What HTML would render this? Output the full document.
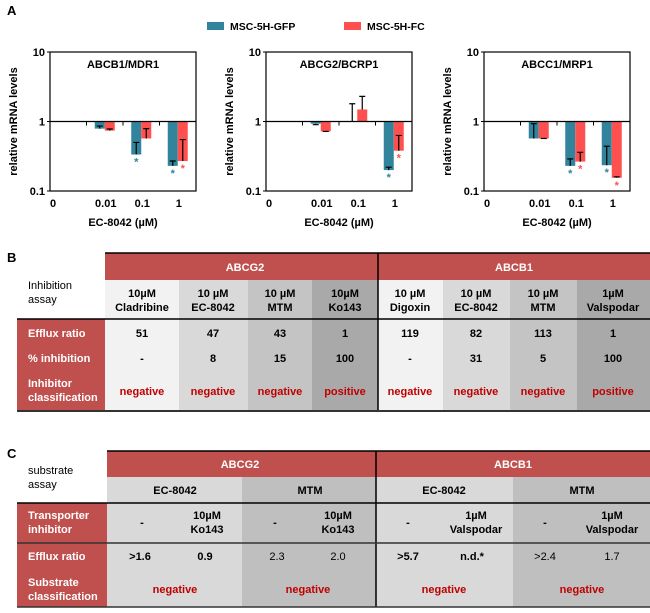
<!DOCTYPE html>
<html><head><meta charset="utf-8"><style>
body{margin:0;background:#fff}
svg{display:block;font-family:"Liberation Sans",sans-serif}
.b{font-weight:bold}
.n{font-weight:normal}
</style></head><body>
<svg id="fig" width="650" height="613" viewBox="0 0 650 613">
<text x="7" y="15" font-size="13" class="b">A</text>
<g>
<rect x="207" y="22" width="17" height="8" fill="#31849b"/>
<text x="230" y="30" font-size="10.5" class="b">MSC-5H-GFP</text>
<rect x="344" y="22" width="17" height="8" fill="#ff5050"/>
<text x="367" y="30" font-size="10.5" class="b">MSC-5H-FC</text>
</g>
<g id="charts"></g>

<!-- Table B -->
<g font-size="11">
<text x="7" y="262" font-size="13" class="b">B</text>
<rect x="105" y="253" width="545" height="27" fill="#c0504d"/>
<text x="245" y="271" fill="#fff" class="b" text-anchor="middle">ABCG2</text>
<text x="514" y="271" fill="#fff" class="b" text-anchor="middle">ABCB1</text>
<text x="28" y="289">Inhibition</text>
<text x="28" y="303">assay</text>
<rect x="105" y="280" width="74" height="131" fill="#f2f2f2"/>
<rect x="179" y="280" width="69" height="131" fill="#d9d9d9"/>
<rect x="248" y="280" width="64" height="131" fill="#c4c4c4"/>
<rect x="312" y="280" width="66" height="131" fill="#a9a9a9"/>
<rect x="378" y="280" width="65" height="131" fill="#f2f2f2"/>
<rect x="443" y="280" width="67" height="131" fill="#d9d9d9"/>
<rect x="510" y="280" width="67" height="131" fill="#c4c4c4"/>
<rect x="577" y="280" width="73" height="131" fill="#a9a9a9"/>
<rect x="17" y="319" width="88" height="92" fill="#c0504d"/>
<line x1="378" y1="253" x2="378" y2="411" stroke="#000" stroke-width="1.5"/>
<line x1="105" y1="253" x2="650" y2="253" stroke="#000" stroke-width="1.5"/>
<line x1="17" y1="319" x2="650" y2="319" stroke="#000" stroke-width="1.5"/>
<line x1="17" y1="411" x2="650" y2="411" stroke="#333" stroke-width="2"/>
<g text-anchor="middle" class="b">
<text x="142" y="297">10µM</text><text x="142" y="311">Cladribine</text>
<text x="213" y="297">10 µM</text><text x="213" y="311">EC-8042</text>
<text x="280" y="297">10 µM</text><text x="280" y="311">MTM</text>
<text x="345" y="297">10µM</text><text x="345" y="311">Ko143</text>
<text x="410" y="297">10 µM</text><text x="410" y="311">Digoxin</text>
<text x="476" y="297">10 µM</text><text x="476" y="311">EC-8042</text>
<text x="543" y="297">10 µM</text><text x="543" y="311">MTM</text>
<text x="613" y="297">1µM</text><text x="613" y="311">Valspodar</text>
<text x="142" y="337">51</text><text x="213" y="337">47</text><text x="280" y="337">43</text><text x="345" y="337">1</text>
<text x="410" y="337">119</text><text x="476" y="337">82</text><text x="543" y="337">113</text><text x="613" y="337">1</text>
<text x="142" y="362">-</text><text x="213" y="362">8</text><text x="280" y="362">15</text><text x="345" y="362">100</text>
<text x="410" y="362">-</text><text x="476" y="362">31</text><text x="543" y="362">5</text><text x="613" y="362">100</text>
<g fill="#c00000">
<text x="142" y="395">negative</text><text x="213" y="395">negative</text><text x="280" y="395">negative</text><text x="345" y="395">positive</text>
<text x="410" y="395">negative</text><text x="476" y="395">negative</text><text x="543" y="395">negative</text><text x="613" y="395">positive</text>
</g></g>
<g fill="#fff" class="b">
<text x="28" y="337">Efflux ratio</text>
<text x="28" y="362">% inhibition</text>
<text x="28" y="387">Inhibitor</text>
<text x="28" y="401">classification</text>
</g>
</g>

<!-- Table C -->
<g font-size="11">
<text x="7" y="458" font-size="13" class="b">C</text>
<rect x="107" y="451" width="543" height="26" fill="#c0504d"/>
<text x="240" y="468" fill="#fff" class="b" text-anchor="middle">ABCG2</text>
<text x="513" y="468" fill="#fff" class="b" text-anchor="middle">ABCB1</text>
<text x="28" y="474">substrate</text>
<text x="28" y="488">assay</text>
<rect x="107" y="477" width="135" height="130" fill="#d9d9d9"/>
<rect x="242" y="477" width="134" height="130" fill="#bfbfbf"/>
<rect x="376" y="477" width="137" height="130" fill="#d9d9d9"/>
<rect x="513" y="477" width="137" height="130" fill="#bfbfbf"/>
<rect x="17" y="503" width="90" height="104" fill="#c0504d"/>
<line x1="376" y1="451" x2="376" y2="607" stroke="#000" stroke-width="1.5"/>
<line x1="107" y1="451" x2="650" y2="451" stroke="#000" stroke-width="1.5"/>
<line x1="17" y1="503" x2="650" y2="503" stroke="#000" stroke-width="1.5"/>
<line x1="17" y1="543" x2="650" y2="543" stroke="#333" stroke-width="1.5"/>
<line x1="17" y1="607" x2="650" y2="607" stroke="#333" stroke-width="1.5"/>
<g text-anchor="middle" class="b">
<text x="175" y="494">EC-8042</text><text x="310" y="494">MTM</text>
<text x="444" y="494">EC-8042</text><text x="582" y="494">MTM</text>
<text x="142" y="526">-</text><text x="207" y="519">10µM</text><text x="207" y="533">Ko143</text>
<text x="275" y="526">-</text><text x="338" y="519">10µM</text><text x="338" y="533">Ko143</text>
<text x="408" y="526">-</text><text x="476" y="519">1µM</text><text x="476" y="533">Valspodar</text>
<text x="545" y="526">-</text><text x="612" y="519">1µM</text><text x="612" y="533">Valspodar</text>
<text x="140" y="560">&gt;1.6</text><text x="205" y="560">0.9</text>
<text x="277" y="560" class="n">2.3</text><text x="338" y="560" class="n">2.0</text>
<text x="408" y="560">&gt;5.7</text><text x="472" y="560">n.d.*</text>
<text x="545" y="560" class="n">&gt;2.4</text><text x="612" y="560" class="n">1.7</text>
<g fill="#c00000">
<text x="175" y="593">negative</text><text x="308" y="593">negative</text>
<text x="444" y="593">negative</text><text x="582" y="593">negative</text>
</g></g>
<g fill="#fff" class="b">
<text x="28" y="519">Transporter</text>
<text x="28" y="533">inhibitor</text>
<text x="28" y="560">Efflux ratio</text>
<text x="28" y="586">Substrate</text>
<text x="28" y="600">classification</text>
</g>
</g>
</svg>
<script>
const categories=["0","0.01","0.1","1"];
const titles=["ABCB1/MDR1","ABCG2/BCRP1","ABCC1/MRP1"];
const gfp1=[null,0.79,0.335,0.23];
const fc1=[null,0.74,0.57,0.27];
const gfpErr1=[null,0.86,0.5,0.27];
const fcErr1=[null,0.78,0.79,0.55];
const gfp2=[null,0.93,1.0,0.2];
const fc2=[null,0.72,1.49,0.38];
const gfpErr2=[null,0.9,1.8,0.22];
const fcErr2=[null,0.72,2.3,0.63];
const gfp3=[null,0.57,0.23,0.235];
const fc3=[null,0.57,0.265,0.155];
const gfpErr3=[null,0.93,0.29,0.44];
const fcErr3=[null,0.57,0.36,0.16];
const sigGfp=[[0,0,1,1],[0,0,0,1],[0,0,1,1]];
const sigFc=[[0,0,0,1],[0,0,0,1],[0,0,1,1]];
const yTicks=[10,1,0.1];
const yTickLabels=["10","1","0.1"];

const NS="http://www.w3.org/2000/svg";
const root=document.getElementById('charts');
function mk(tag,attrs,parent){const e=document.createElementNS(NS,tag);for(const k in attrs)e.setAttribute(k,attrs[k]);(parent||root).appendChild(e);return e;}
const top0=52,bot0=191,w=146;
const lefts=[50,266,484];
function yScale(v){return bot0-(Math.log10(v)+1)/2*(bot0-top0);}
const gfps=[gfp1,gfp2,gfp3],fcs=[fc1,fc2,fc3],gErrs=[gfpErr1,gfpErr2,gfpErr3],fErrs=[fcErr1,fcErr2,fcErr3];
for(let p=0;p<3;p++){
  const L=lefts[p];
  const slot=w/categories.length;
  const xScale=i=>L+slot*(i+0.5);
  const g=mk('g',{});
  
  
  const fr=mk('rect',{x:L,y:top0,width:w,height:bot0-top0,fill:'none',stroke:'#000','stroke-width':1.2},g);
  
  
  const t=mk('text',{x:L+w/2,y:68,'text-anchor':'middle','font-size':11,'font-weight':'bold'},g);
  t.textContent=titles[p];
  
  
  yTicks.forEach((v,i)=>{
    const lb=mk('text',{x:L-5,y:yScale(v)+4,'text-anchor':'end','font-size':11,'font-weight':'bold'},g);
    lb.textContent=yTickLabels[i];
    
    
    mk('line',{x1:L-3,x2:L,y1:yScale(v),y2:yScale(v),stroke:'#000'},g);
  });
  const yl=mk('text',{x:0,y:0,transform:`translate(${L-33},${yScale(1)}) rotate(-90)`,'text-anchor':'middle','font-size':11,'font-weight':'bold'},g);
  yl.textContent='relative mRNA levels';
  
  
  const xt=mk('text',{x:L+w/2,y:226,'text-anchor':'middle','font-size':11,'font-weight':'bold'},g);
  xt.textContent='EC-8042 (µM)';
  
  
  const y1=yScale(1);
  categories.forEach((c,i)=>{
    const cx=i===0?L+3:xScale(i)+1;
    const lb=mk('text',{x:cx,y:207,'text-anchor':'middle','font-size':11,'font-weight':'bold'},g);
    lb.textContent=c;
    
    
    if(i>0) mk('line',{x1:L+slot*i,x2:L+slot*i,y1:y1,y2:y1+4,stroke:'#000'},g);
    const series=[[gfps[p],gErrs[p],'#31849b',-10,sigGfp[p]],[fcs[p],fErrs[p],'#ff5050',0,sigFc[p]]];
    series.forEach(([vals,errs,col,off,sig],si)=>{
      const v=vals[i]; if(v==null) return;
      const x0=xScale(i)+off, yv=yScale(v);
      const r=mk('rect',{x:x0,y:Math.min(y1,yv),width:10,height:Math.max(0.5,Math.abs(yv-y1)),fill:col},g);
      
      
      const e=errs[i];
      if(e!=null){
        const ye=yScale(e), ex=x0+5;
        const el=mk('path',{d:`M${ex},${yv}V${ye}M${ex-3},${ye}H${ex+3}`,stroke:'#000','stroke-width':1.2,fill:'none'},g);
        
        
      }
      if(sig[i]){
        const s=mk('text',{x:x0+5,y:Math.max(yv,e!=null?yScale(e):yv)+11,'text-anchor':'middle','font-size':11,fill:col,'font-weight':'bold'},g);
        s.textContent='*';
        
        
      }
    });
  });
  mk('line',{x1:L,x2:L+w,y1:y1,y2:y1,stroke:'#000','stroke-width':1.2},g);
}
</script>
</body></html>
